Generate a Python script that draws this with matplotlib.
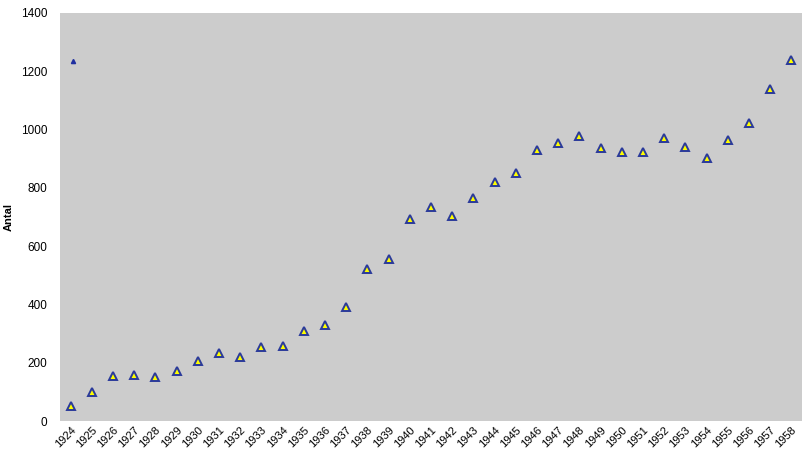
import matplotlib
matplotlib.use("Agg")
import matplotlib.pyplot as plt

plt.rcParams['font.family'] = ['Liberation Sans', 'DejaVu Sans']

years = list(range(1924, 1959))
antal = [52, 100, 155, 158, 151, 172, 206, 233, 220, 254, 257, 309, 329, 391,
         522, 556, 693, 734, 703, 765, 820, 851, 930, 954, 978, 937, 922, 922,
         971, 939, 902, 964, 1022, 1139, 1239]

# stray point near the top left in the reference
extra_x = [0.1]
extra_y = [1235]

fig = plt.figure(figsize=(8.02, 4.63), dpi=100)
ax = fig.add_axes([0.0748, 0.0907, 0.9252, 0.8813])
ax.set_facecolor('#CCCCCC')

pos = list(range(len(years)))
ax.plot(pos, antal, linestyle='none', marker='^', markersize=5.2,
        markerfacecolor='#FFFF00', markeredgecolor='#2A3A9A', markeredgewidth=1.4)
ax.plot(extra_x, extra_y, linestyle='none', marker='^', markersize=3,
        markerfacecolor='#1F2FA0', markeredgecolor='#1F2FA0')

ax.set_xlim(-0.5, len(years) - 0.5)
ax.set_ylim(0, 1400)
ax.set_yticks(range(0, 1401, 200))
ax.set_xticks(pos)
ax.set_xticklabels([str(y) for y in years], rotation=45, ha='right',
                   rotation_mode='anchor', fontsize=8)
ax.tick_params(axis='y', labelsize=8.5, length=0, pad=9)
ax.tick_params(axis='x', length=0, pad=3)
for s in ax.spines.values():
    s.set_visible(False)

ax.set_ylabel('Antal', fontsize=8, fontweight='bold', labelpad=5)

fig.savefig('out.png', dpi=100)
